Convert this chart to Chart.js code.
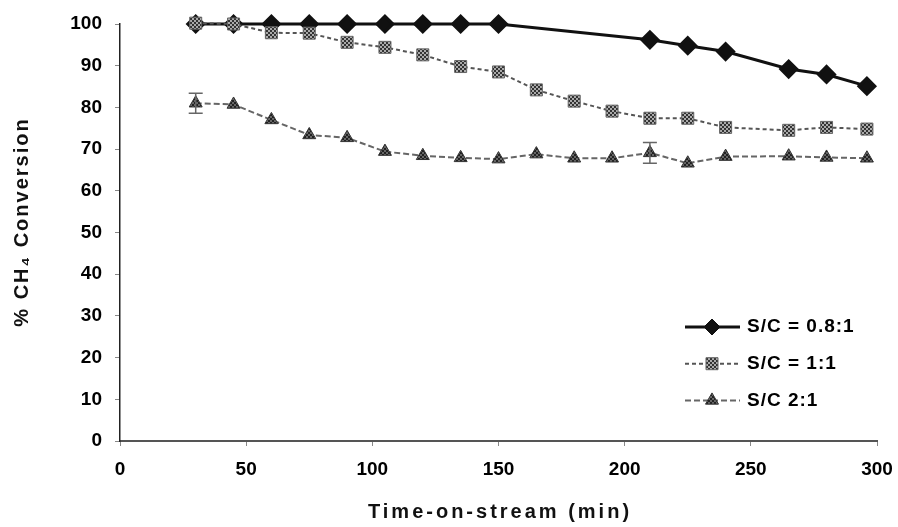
<!DOCTYPE html>
<html>
<head>
  <meta charset="UTF-8">
  <title>CH4 Conversion</title>
  <script src="https://cdn.jsdelivr.net/npm/chart.js@4.4.1/dist/chart.umd.min.js"></script>
  <style>
    body { margin: 0; background: #fff; }
    #wrap { width: 898px; height: 527px; }
  </style>
</head>
<body>
<div id="wrap"><canvas id="chart"></canvas></div>

<script>
  // time-on-stream (min) for each series
  var timeA = [30, 45, 60, 75, 90, 105, 120, 135, 150, 210, 225, 240, 265, 280, 296];
  var timeB = [30, 45, 60, 75, 90, 105, 120, 135, 150, 165, 180, 195, 210, 225, 240, 265, 280, 296];

  // % CH4 conversion
  var sc08 = [100, 100, 100, 100, 100, 100, 100, 100, 100, 96.2, 94.8, 93.4, 89.2, 87.9, 85.1];
  var sc1 = [100.2, 100, 97.9, 97.8, 95.6, 94.4, 92.6, 89.8, 88.5, 84.2, 81.5, 79.1, 77.4, 77.4, 75.2, 74.5, 75.2, 74.8];
  var sc2 = [81, 80.7, 77, 73.4, 72.7, 69.4, 68.4, 67.9, 67.6, 68.8, 67.8, 67.8, 69.1, 66.6, 68.2, 68.3, 68.0, 67.8];
  var sc2Err = [2.4, 0, 0, 0, 0, 0, 0, 0, 0, 0, 0, 0, 2.5, 0, 0, 0, 0, 0];

  var seriesNames = ['S/C = 0.8:1', 'S/C = 1:1', 'S/C 2:1'];
  var xTitle = 'Time-on-stream (min)';
  var yTitle = '% CH\u2084 Conversion';

  function toPoints(xs, ys) {
    return xs.map(function (x, i) { return { x: x, y: ys[i] }; });
  }

  // small checker pattern for the hatched markers
  function hatch(dark, light) {
    var c = document.createElement('canvas');
    c.width = 4; c.height = 4;
    var g = c.getContext('2d');
    g.fillStyle = light; g.fillRect(0, 0, 4, 4);
    g.fillStyle = dark; g.fillRect(0, 0, 2, 2); g.fillRect(2, 2, 2, 2);
    return g.createPattern(c, 'repeat');
  }

  var boldFont = 'bold 19px "Liberation Sans", Arial, sans-serif';

  // error bars, legend and axis titles
  var extras = {
    id: 'extras',
    afterDatasetsDraw: function (chart) {
      var ctx = chart.ctx;
      var meta = chart.getDatasetMeta(2);
      var ys = chart.scales.y;
      ctx.save();
      ctx.strokeStyle = '#666';
      ctx.lineWidth = 1.5;
      meta.data.forEach(function (pt, i) {
        var e = sc2Err[i];
        if (!e) return;
        var top = ys.getPixelForValue(sc2[i] + e);
        var bot = ys.getPixelForValue(sc2[i] - e);
        ctx.beginPath();
        ctx.moveTo(pt.x, top); ctx.lineTo(pt.x, bot);
        ctx.moveTo(pt.x - 7, top); ctx.lineTo(pt.x + 7, top);
        ctx.moveTo(pt.x - 7, bot); ctx.lineTo(pt.x + 7, bot);
        ctx.stroke();
      });
      ctx.restore();
    },
    afterDraw: function (chart) {
      var ctx = chart.ctx;
      ctx.save();
      // legend inside the plot
      chart.data.datasets.forEach(function (ds, i) {
        var y = 327 + i * 36.7;
        ctx.strokeStyle = ds.borderColor;
        ctx.lineWidth = ds.borderWidth;
        ctx.setLineDash(ds.borderDash || []);
        ctx.beginPath();
        ctx.moveTo(685, y); ctx.lineTo(740, y);
        ctx.stroke();
        ctx.setLineDash([]);
        ctx.fillStyle = ds.pointBackgroundColor;
        ctx.strokeStyle = ds.pointBorderColor;
        ctx.lineWidth = 1;
        Chart.helpers.drawPoint(ctx, {
          pointStyle: ds.pointStyle, radius: ds.pointRadius, rotation: 0, borderWidth: 1
        }, 712, y);
        ctx.fillStyle = '#000';
        ctx.font = boldFont;
        ctx.textAlign = 'left';
        ctx.textBaseline = 'middle';
        ctx.letterSpacing = '1px';
        ctx.fillText(ds.label, 747, y);
        ctx.letterSpacing = '0px';
      });

      // axis titles
      ctx.fillStyle = '#111';
      ctx.font = 'bold 20px "Liberation Sans", Arial, sans-serif';
      ctx.textAlign = 'center';
      ctx.textBaseline = 'middle';
      ctx.letterSpacing = '3px';
      ctx.fillText(xTitle, 500, 512);
      ctx.translate(22, 222);
      ctx.rotate(-Math.PI / 2);
      ctx.letterSpacing = '2px';
      ctx.fillText(yTitle, 0, 0);
      ctx.restore();
    }
  };

  var ctx = document.getElementById('chart').getContext('2d');
  var chart = new Chart(ctx, {
    type: 'line',
    data: {
      datasets: [{
        label: seriesNames[0],
        data: toPoints(timeA, sc08),
        borderColor: '#111',
        borderWidth: 3,
        pointStyle: 'rectRot',
        pointRadius: 8,
        pointBackgroundColor: '#111',
        pointBorderColor: '#111',
        order: 3,
        clip: false
      }, {
        label: seriesNames[1],
        data: toPoints(timeB, sc1),
        borderColor: '#555',
        borderWidth: 2,
        borderDash: [4, 3],
        pointStyle: 'rect',
        pointRadius: 8.5,
        pointBackgroundColor: hatch('#333', '#aaa'),
        pointBorderColor: '#666',
        pointBorderWidth: 1,
        order: 2,
        clip: false
      }, {
        label: seriesNames[2],
        data: toPoints(timeB, sc2),
        borderColor: '#666',
        borderWidth: 2,
        borderDash: [6, 3],
        pointStyle: 'triangle',
        pointRadius: 7.5,
        pointBackgroundColor: hatch('#222', '#666'),
        pointBorderColor: '#333',
        pointBorderWidth: 1,
        order: 1,
        clip: false
      }]
    },
    options: {
      responsive: true,
      maintainAspectRatio: false,
      animation: false,
      devicePixelRatio: 1,
      layout: { padding: { top: 24, right: 21, left: 0, bottom: 0 } },
      plugins: {
        legend: { display: false },
        tooltip: { enabled: false }
      },
      scales: {
        x: {
          type: 'linear',
          min: 0,
          max: 300,
          afterFit: function (s) { s.height = 86; s.paddingLeft = 0; s.paddingRight = 0; },
          ticks: { stepSize: 50, color: '#000', font: { family: '"Liberation Sans", Arial', size: 19, weight: 'bold' }, padding: 12, maxRotation: 0 },
          grid: { drawOnChartArea: false, drawTicks: true, tickLength: 5, color: '#888' },
          border: { color: '#555', width: 2 }
        },
        y: {
          min: 0,
          max: 100,
          afterFit: function (s) { s.width = 120; s.paddingTop = 0; s.paddingBottom = 0; },
          ticks: { stepSize: 10, color: '#000', font: { family: '"Liberation Sans", Arial', size: 19, weight: 'bold' }, padding: 13 },
          grid: { drawOnChartArea: false, drawTicks: true, tickLength: 5, color: '#888' },
          border: { color: '#222', width: 1.5 }
        }
      }
    },
    plugins: [extras]
  });
</script>
</body>
</html>
